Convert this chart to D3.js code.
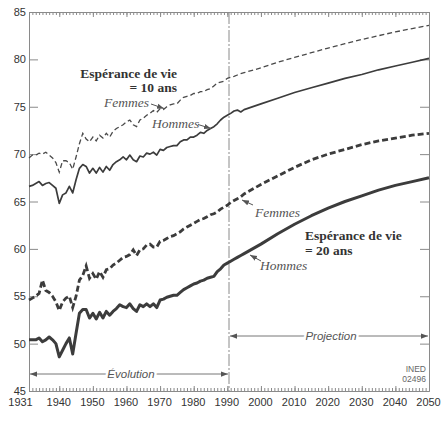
<!DOCTYPE html>
<html><head><meta charset="utf-8">
<script src="https://cdn.jsdelivr.net/npm/d3@7"></script>
<style>
html,body{margin:0;padding:0;background:#fff;}
svg{display:block;}
</style></head>
<body>
<svg id="chart" width="444" height="433"></svg>
<script>
// ---------- DATA ----------
const histStart = 1931; // historical series: one value per year 1931..1990
const femmesE10Hist = [69.6,69.9,69.9,70.1,70.0,70.2,69.9,69.6,69.1,68.1,69.3,69.3,69.1,68.4,69.7,71.1,72.2,71.6,71.3,71.8,71.4,72.0,71.7,72.2,71.8,72.4,72.7,72.9,73.1,73.4,73.6,73.1,72.9,73.6,73.8,74.1,74.3,74.6,74.4,74.8,74.7,75.0,75.2,75.3,75.3,75.7,76.0,76.1,76.2,76.4,76.4,76.6,76.6,76.8,76.9,77.2,77.5,77.6,77.7,78.0];
const hommesE10Hist = [66.6,66.7,66.9,67.1,66.7,66.9,67.0,66.7,66.4,64.8,65.7,65.9,66.6,65.9,67.3,68.5,68.9,68.7,68.0,68.5,68.0,68.6,68.1,68.7,68.3,68.9,69.2,69.4,69.7,69.4,69.9,69.4,69.2,69.8,69.7,70.1,70.0,70.2,69.9,70.5,70.4,70.7,70.8,70.9,70.9,71.3,71.5,71.5,71.8,71.8,72.0,72.3,72.2,72.5,72.7,72.9,73.2,73.6,73.9,74.1];
const femmesE20Hist = [54.6,54.8,55.0,55.3,56.7,55.6,55.4,55.0,54.4,53.5,54.4,54.8,55.0,53.8,55.0,56.7,57.2,58.2,56.9,57.4,56.8,57.6,57.0,57.8,57.9,58.3,58.5,58.8,59.1,59.2,59.4,59.9,59.3,59.9,60.0,60.4,60.5,60.2,60.2,60.8,60.9,61.1,61.3,61.4,61.6,61.8,62.1,62.3,62.5,62.7,62.9,63.1,63.2,63.4,63.6,63.7,63.9,64.2,64.4,64.6];
const hommesE20Hist = [50.4,50.4,50.4,50.6,50.2,50.4,50.7,50.4,50.0,48.6,49.3,50.0,50.6,48.9,51.1,53.2,53.6,53.6,52.7,53.2,52.6,53.3,52.7,53.4,53.0,53.4,53.7,54.1,53.9,53.8,54.2,53.7,53.4,54.1,53.9,54.2,53.9,54.2,53.8,54.6,54.7,54.9,55.0,55.1,55.1,55.4,55.7,55.9,56.1,56.3,56.4,56.6,56.7,56.9,57.0,57.1,57.6,57.9,58.3,58.5];

const projYears = [1991,1992,1993,1994,1995,2000,2005,2010,2015,2020,2025,2030,2035,2040,2045,2050];
const femmesE10Proj = [78.1,78.2,78.35,78.5,78.6,79.1,79.7,80.2,80.7,81.2,81.65,82.1,82.5,82.9,83.25,83.6];
const hommesE10Proj = [74.3,74.55,74.65,74.45,74.7,75.3,75.9,76.5,77.0,77.5,78.0,78.4,78.9,79.3,79.7,80.1];
const femmesE20Proj = [64.9,65.1,65.3,65.5,65.8,66.8,67.7,68.6,69.4,70.0,70.5,71.0,71.4,71.7,72.0,72.2];
const hommesE20Proj = [58.7,58.9,59.1,59.3,59.5,60.5,61.6,62.6,63.5,64.3,65.0,65.6,66.2,66.7,67.1,67.5];

const xTickLabels = [1931,1940,1950,1960,1970,1980,1990,2000,2010,2020,2030,2040,2050];
const yTickLabels = [45,50,55,60,65,70,75,80,85];
const dividerYear = 1990.5;

// ---------- SCALES ----------
const svg = d3.select("#chart");
const x = d3.scaleLinear().domain([1931, 2050]).range([29, 429]);
const y = d3.scaleLinear().domain([45, 85]).range([391, 12]);

function series(hist, proj) {
  const pts = hist.map((v, i) => ({yr: histStart + i, v}));
  proj.forEach((v, i) => pts.push({yr: projYears[i], v}));
  return pts;
}
const line = d3.line().x(d => x(d.yr)).y(d => y(d.v));

const axisCol = "#8a8a8a";

// defs: arrow markers
const defs = svg.append("defs");
defs.append("marker").attr("id","ah").attr("viewBox","0 -4 8 8")
  .attr("refX",8).attr("refY",0).attr("markerWidth",7).attr("markerHeight",7)
  .attr("markerUnits","userSpaceOnUse").attr("orient","auto-start-reverse")
  .append("path").attr("d","M0,-3L8,0L0,3Z").attr("fill","#555");

// ---------- AXES ----------
const years = d3.range(1931, 2051);
function styleAxis(g){ g.selectAll("path,line").attr("stroke", axisCol).attr("stroke-width",1); }

// top minor + major ticks
svg.append("g").attr("transform","translate(0,12)")
  .call(d3.axisTop(x).tickValues(years).tickSize(-3).tickSizeOuter(0).tickFormat(""))
  .call(styleAxis);
svg.append("g").attr("transform","translate(0,12)")
  .call(d3.axisTop(x).tickValues(xTickLabels.slice(1)).tickSize(-5).tickSizeOuter(0).tickFormat(""))
  .call(styleAxis);
// bottom
svg.append("g").attr("transform","translate(0,391)")
  .call(d3.axisBottom(x).tickValues(years).tickSize(-3).tickSizeOuter(0).tickFormat(""))
  .call(styleAxis);
const bx = svg.append("g").attr("transform","translate(0,391)")
  .call(d3.axisBottom(x).tickValues(xTickLabels).tickSize(-5).tickSizeOuter(0).tickPadding(7).tickFormat(d3.format("d")))
  .call(styleAxis);
bx.selectAll("text").attr("font-family","Liberation Sans, Arial, sans-serif").attr("font-size","11px").attr("fill","#333")
  .attr("dx", d => d === 1931 ? -9 : -1);
// left
const ly = svg.append("g").attr("transform","translate(29,0)")
  .call(d3.axisLeft(y).tickValues(yTickLabels).tickSize(-9).tickSizeOuter(0).tickPadding(3).tickFormat(d3.format("d")))
  .call(styleAxis);
ly.selectAll("text").attr("font-family","Liberation Sans, Arial, sans-serif").attr("font-size","11px").attr("fill","#333");
// right
svg.append("g").attr("transform","translate(429,0)")
  .call(d3.axisRight(y).tickValues(yTickLabels).tickSize(-9).tickSizeOuter(0).tickFormat(""))
  .call(styleAxis);

// divider (dash-dot)
svg.append("line").attr("x1", x(dividerYear)).attr("x2", x(dividerYear))
  .attr("y1", y(85)).attr("y2", y(45))
  .attr("stroke","#8a8a8a").attr("stroke-width",1).attr("stroke-dasharray","12,2,2,2");

// ---------- LINES ----------
const lineCol = "#3c3c3c";
svg.append("path").datum(series(femmesE10Hist, femmesE10Proj)).attr("d", line)
  .attr("fill","none").attr("stroke","#4a4a4a").attr("stroke-width",1.3).attr("stroke-dasharray","5,3");
svg.append("path").datum(series(hommesE10Hist, hommesE10Proj)).attr("d", line)
  .attr("fill","none").attr("stroke",lineCol).attr("stroke-width",1.7).attr("stroke-linejoin","round");
svg.append("path").datum(series(femmesE20Hist, femmesE20Proj)).attr("d", line)
  .attr("fill","none").attr("stroke",lineCol).attr("stroke-width",2.8).attr("stroke-dasharray","6,3");
svg.append("path").datum(series(hommesE20Hist, hommesE20Proj)).attr("d", line)
  .attr("fill","none").attr("stroke",lineCol).attr("stroke-width",3).attr("stroke-linejoin","round");

// ---------- PERIOD ARROWS ----------
function period(y0, x0, x1, label){
  svg.append("line").attr("x1",x0).attr("x2",x1).attr("y1",y0).attr("y2",y0)
    .attr("stroke","#777").attr("stroke-width",1)
    .attr("marker-start","url(#ah)").attr("marker-end","url(#ah)");
  svg.append("text").attr("x",(x0+x1)/2 + 2).attr("y",y0+4).attr("text-anchor","middle")
    .attr("font-family","Liberation Sans, Arial, sans-serif").attr("font-style","italic").attr("font-size","11.5px")
    .attr("fill","#555").attr("stroke","#fff").attr("stroke-width",5).attr("paint-order","stroke")
    .text(label);
}
period(374, x(1931)+1, x(dividerYear)-1, "Évolution");
period(336, x(dividerYear)+1, x(2050)-1, "Projection");

// ---------- ANNOTATIONS ----------
const serif = "Liberation Serif, Times New Roman, serif";
function txt(xp, yp, s, opts){
  const t = svg.append("text").attr("x",xp).attr("y",yp).attr("font-family",serif)
    .attr("font-size", opts.size || "13.5px").attr("fill", opts.fill || "#333")
    .attr("text-anchor", opts.anchor || "start").text(s);
  if (opts.bold) t.attr("font-weight","bold");
  if (opts.italic) t.attr("font-style","italic");
  return t;
}
function arrow(x0,y0,x1,y1){
  svg.append("line").attr("x1",x0).attr("y1",y0).attr("x2",x1).attr("y2",y1)
    .attr("stroke","#555").attr("stroke-width",1).attr("marker-end","url(#ah)");
}
txt(177, 77.5, "Espérance de vie", {bold:true, anchor:"end"});
txt(177, 91.5, "= 10 ans", {bold:true, anchor:"end"});
txt(104, 106.5, "Femmes", {italic:true, fill:"#555"});
arrow(151, 104, 164, 108.5);
txt(152, 128, "Hommes", {italic:true, fill:"#555"});
arrow(198, 124.5, 211, 128.5);
txt(255, 216.5, "Femmes", {italic:true, fill:"#555"});
arrow(253, 205, 242, 200);
txt(260, 270, "Hommes", {italic:true, fill:"#555"});
arrow(261, 261, 250, 255);
txt(305, 239.5, "Espérance de vie", {bold:true});
txt(305, 255, "= 20 ans", {bold:true});

// source tag
svg.append("text").attr("x",426).attr("y",372).attr("text-anchor","end")
  .attr("font-family","Liberation Sans, Arial, sans-serif").attr("font-size","8.5px").attr("fill","#666").text("INED");
svg.append("text").attr("x",426).attr("y",382).attr("text-anchor","end")
  .attr("font-family","Liberation Sans, Arial, sans-serif").attr("font-size","8.5px").attr("fill","#666").text("02496");
</script>
</body></html>
